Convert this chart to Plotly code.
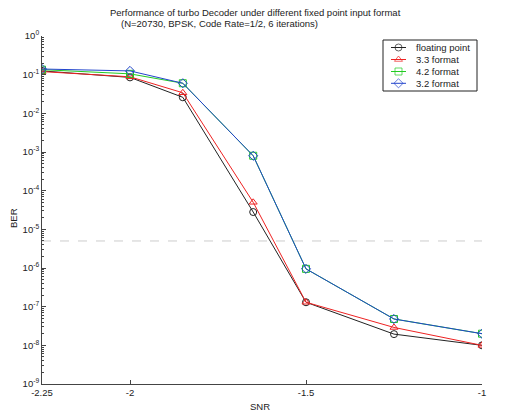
import plotly.graph_objects as go

snr = [-2.25, -2.0, -1.85, -1.65, -1.5, -1.25, -1.0]
ber_float = [0.125, 0.085, 0.026, 2.8e-5, 1.3e-7, 1.95e-8, 1.0e-8]
ber_33 = [0.12, 0.088, 0.034, 5.0e-5, 1.3e-7, 2.9e-8, 1.0e-8]
ber_42 = [0.135, 0.105, 0.06, 8.0e-4, 9.5e-7, 4.8e-8, 2.0e-8]
ber_32 = [0.14, 0.125, 0.06, 8.0e-4, 9.5e-7, 4.8e-8, 2.0e-8]
threshold = 5e-6

series = [
    ("floating point", ber_float, "#222222", "circle-open"),
    ("3.3 format", ber_33, "#ee2222", "triangle-up-open"),
    ("4.2 format", ber_42, "#22cc22", "square-open"),
    ("3.2 format", ber_32, "#2244cc", "diamond-open"),
]

# plot area in pixels (for layout only)
W, H = 531, 414
L, R, T, B = 42, 482, 36, 384
pw, ph = R - L, B - T

fig = go.Figure()
fig.add_trace(go.Scatter(x=[snr[0], snr[-1]], y=[threshold, threshold], mode="lines",
                         line=dict(color="#cccccc", width=1, dash="dash"), showlegend=False,
                         hoverinfo="skip"))
for name, ys, col, sym in series:
    fig.add_trace(go.Scatter(x=snr, y=ys, name=name, mode="lines+markers", showlegend=False,
                             line=dict(color=col, width=1),
                             marker=dict(symbol=sym, size=7, color=col, line=dict(width=1, color=col))))

# custom compact legend (MATLAB style) on an overlay axis measured in pixels
lx0, lx1, ly0, ly1 = 383, 477, 40, 91
row_y = [47.5, 59.5, 71.5, 83.3]
for (name, ys, col, sym), ry in zip(series, row_y):
    fig.add_trace(go.Scatter(x=[391, 398.5, 406], y=[ry, ry, ry], xaxis="x2", yaxis="y2",
                             mode="lines+markers", showlegend=False, hoverinfo="skip",
                             line=dict(color=col, width=1),
                             marker=dict(symbol=sym, size=[0, 7, 0], color=col,
                                         line=dict(width=1, color=col))))
    fig.add_annotation(text=name, xref="x2", yref="y2", x=414, y=ry, xanchor="left",
                       yanchor="middle", showarrow=False, font=dict(size=9.5, color="#222222"))
fig.add_shape(type="rect", xref="x2", yref="y2", x0=lx0, x1=lx1, y0=ly0, y1=ly1,
              line=dict(color="#222222", width=1), fillcolor="rgba(0,0,0,0)")

ytv = [10.0 ** e for e in range(-9, 1)]
ytt = ["10<sup>%d</sup>" % e for e in range(-9, 1)]
minor_vals = [k * 10.0 ** e for e in range(-9, 0) for k in range(2, 10)]

fig.update_layout(
    width=W, height=H,
    margin=dict(l=L, r=W - R, t=T, b=H - B),
    paper_bgcolor="white", plot_bgcolor="white",
    font=dict(family="Liberation Sans, Arial, sans-serif", size=9, color="#222222"),
    showlegend=False,
    xaxis=dict(range=[-2.25, -1], tickmode="array", tickvals=[-2.25, -2, -1.5, -1],
               ticktext=["-2.25", "-2", "-1.5", "-1"], ticks="inside", ticklen=4,
               showline=True, linecolor="#444444", linewidth=1, showgrid=False, zeroline=False,
               automargin=False, tickfont=dict(size=9.5)),
    yaxis=dict(type="log", range=[-9, 0], tickmode="array", tickvals=ytv, ticktext=ytt,
               ticks="inside", ticklen=4, showline=True, linecolor="#444444", linewidth=1,
               showgrid=False, zeroline=False, automargin=False, tickfont=dict(size=9.5),
               minor=dict(tickmode="array", tickvals=minor_vals, ticks="inside", ticklen=2,
                          tickcolor="#444444", showgrid=False)),
    xaxis2=dict(domain=[0, 1], range=[L, R], visible=False, anchor="y2", overlaying="x"),
    yaxis2=dict(domain=[0, 1], range=[B, T], visible=False, anchor="x2", overlaying="y"),
)

fig.add_annotation(text="SNR", xref="paper", yref="paper", x=(260 - L) / pw, y=-(406 - B) / ph,
                   showarrow=False, yanchor="middle", font=dict(size=9.5))
fig.add_annotation(text="BER", xref="paper", yref="paper", x=-(L - 13) / pw, y=(B - 218) / ph,
                   showarrow=False, textangle=-90, xanchor="center", yanchor="middle",
                   font=dict(size=9.5))
fig.add_annotation(text="Performance of turbo Decoder under different fixed point input format",
                   xref="paper", yref="paper", x=(255 - L) / pw, y=(B - 12) / ph,
                   yanchor="middle", showarrow=False, font=dict(size=9.5))
fig.add_annotation(text="(N=20730, BPSK, Code Rate=1/2, 6 iterations)",
                   xref="paper", yref="paper", x=(119 - L) / pw, y=(B - 24) / ph,
                   xanchor="left", yanchor="middle", showarrow=False, font=dict(size=9.5))

fig.write_html("out.html")
